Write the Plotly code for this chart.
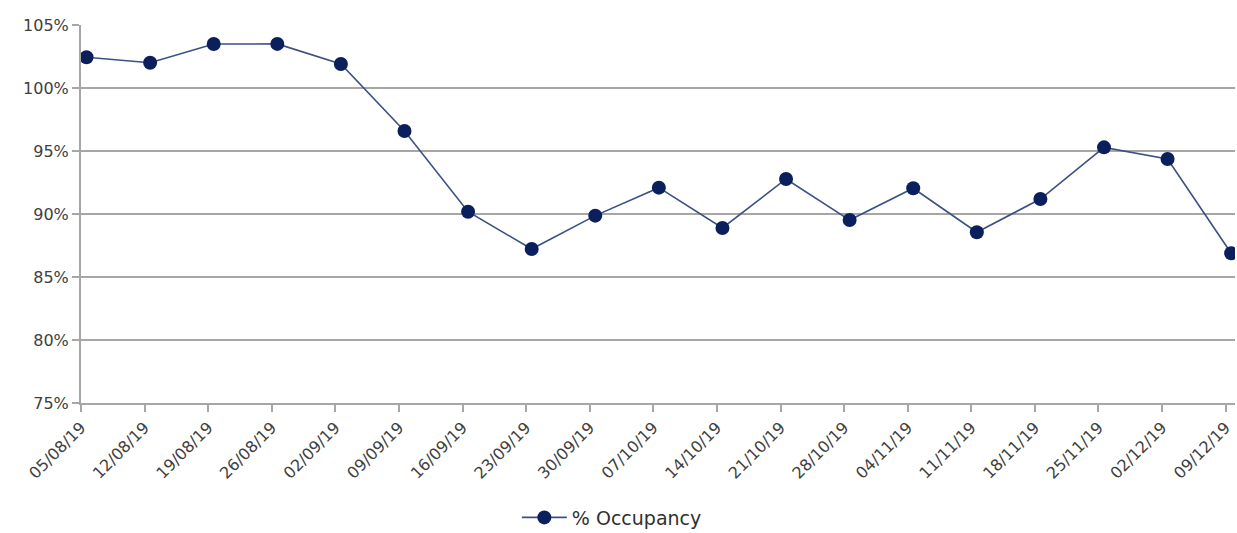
import plotly.graph_objects as go

dates = ["05/08/19", "12/08/19", "19/08/19", "26/08/19", "02/09/19", "09/09/19", "16/09/19",
         "23/09/19", "30/09/19", "07/10/19", "14/10/19", "21/10/19", "28/10/19", "04/11/19",
         "11/11/19", "18/11/19", "25/11/19", "02/12/19", "09/12/19"]
occupancy = [102.44, 102.0, 103.49, 103.5, 101.9, 96.59, 90.18, 87.22, 89.87, 92.09,
             88.89, 92.78, 89.52, 92.04, 88.55, 91.19, 95.29, 94.37, 86.88]
y_ticks = [75, 80, 85, 90, 95, 100, 105]

idx = list(range(len(dates)))
shift = 0.087

fig = go.Figure()
fig.add_trace(go.Scatter(
    x=idx, y=occupancy, mode="lines+markers", name="% Occupancy",
    line=dict(color="#3a5184", width=1.6),
    marker=dict(color="#0b1f5c", size=14),
))

font = dict(family="DejaVu Sans", size=16, color="#404040")
fig.update_layout(
    width=1237, height=533,
    autosize=False,
    margin=dict(l=81, r=2, t=25, b=130, autoexpand=False),
    paper_bgcolor="white", plot_bgcolor="white",
    font=font,
    showlegend=True,
    legend=dict(orientation="h", x=0.46, xanchor="center", itemwidth=45,
                y=-0.303, yanchor="middle", font=dict(family="DejaVu Sans", size=19, color="#303030")),
    xaxis=dict(
        range=[-shift, 18.06], tickmode="array",
        tickvals=[i - shift for i in idx], ticktext=dates, tickangle=-45,
        showgrid=False, showline=True, linecolor="#a6a6a6", linewidth=2,
        ticks="outside", ticklen=7, tickcolor="#a6a6a6", tickwidth=2,
        tickfont=font, zeroline=False, automargin=False,
    ),
    yaxis=dict(
        range=[75, 105], tickmode="array", tickvals=y_ticks,
        ticktext=[f"{v}%" for v in y_ticks],
        showgrid=True, gridcolor="#a6a6a6", gridwidth=2,
        showline=True, linecolor="#a6a6a6", linewidth=2,
        ticks="outside", ticklen=7, tickcolor="#a6a6a6", tickwidth=2,
        tickfont=font, zeroline=False, automargin=False,
    ),
)

fig.write_html("out.html")
